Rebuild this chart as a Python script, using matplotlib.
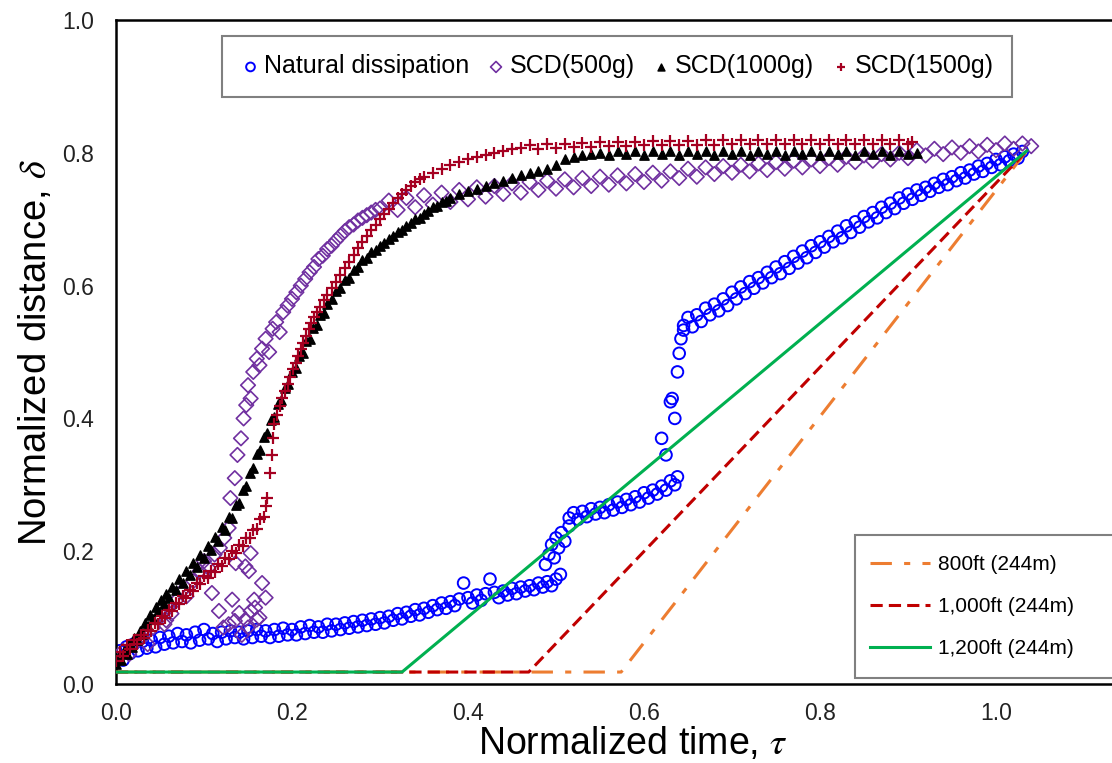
import matplotlib
matplotlib.use("Agg")
import matplotlib.pyplot as plt
from matplotlib.patches import Rectangle

plt.rcParams['font.family'] = ['Liberation Sans', 'DejaVu Sans']
plt.rcParams['mathtext.fontset'] = 'stix'

# Natural dissipation (blue circles)
nat_tau = [0.000, 0.004, 0.008, 0.012, 0.016, 0.020, 0.025, 0.030, 0.035, 0.040, 0.045, 0.050, 0.055, 0.060,
           0.065, 0.070, 0.075, 0.080, 0.085, 0.090, 0.095, 0.100, 0.105, 0.110, 0.115, 0.120, 0.125, 0.130,
           0.135, 0.140, 0.145, 0.150, 0.155, 0.160, 0.165, 0.170, 0.175, 0.180, 0.185, 0.190, 0.195, 0.200,
           0.205, 0.210, 0.215, 0.220, 0.225, 0.230, 0.235, 0.240, 0.245, 0.250, 0.255, 0.260, 0.265, 0.270,
           0.275, 0.280, 0.285, 0.290, 0.295, 0.300, 0.305, 0.310, 0.315, 0.320, 0.325, 0.330, 0.335, 0.340,
           0.345, 0.350, 0.355, 0.360, 0.365, 0.370, 0.375, 0.380, 0.385, 0.390, 0.395, 0.400, 0.405, 0.410,
           0.415, 0.420, 0.425, 0.430, 0.435, 0.440, 0.445, 0.450, 0.455, 0.460, 0.465, 0.470, 0.475, 0.480,
           0.485, 0.490, 0.495, 0.500, 0.505,
           0.488, 0.492, 0.495, 0.498, 0.500, 0.503, 0.506, 0.510, 0.515,
           0.515, 0.520, 0.525, 0.530, 0.535, 0.540, 0.545, 0.550, 0.555, 0.560, 0.565, 0.570, 0.575, 0.580,
           0.585, 0.590, 0.595, 0.600, 0.605, 0.610, 0.615, 0.620, 0.625, 0.630, 0.635, 0.638,
           0.620, 0.625, 0.630, 0.632, 0.635, 0.638, 0.640, 0.642, 0.645,
           0.645, 0.650, 0.655, 0.660, 0.665, 0.670, 0.675, 0.680, 0.685, 0.690, 0.695, 0.700, 0.705, 0.710,
           0.715, 0.720, 0.725, 0.730, 0.735, 0.740, 0.745, 0.750, 0.755, 0.760, 0.765, 0.770, 0.775, 0.780,
           0.785, 0.790, 0.795, 0.800, 0.805, 0.810, 0.815, 0.820, 0.825, 0.830, 0.835, 0.840, 0.845, 0.850,
           0.855, 0.860, 0.865, 0.870, 0.875, 0.880, 0.885, 0.890, 0.895, 0.900, 0.905, 0.910, 0.915, 0.920,
           0.925, 0.930, 0.935, 0.940, 0.945, 0.950, 0.955, 0.960, 0.965, 0.970, 0.975, 0.980, 0.985, 0.990,
           0.995, 1.000, 1.005, 1.010, 1.015, 1.020, 1.025, 1.030]
nat_delta = [0.040, 0.050, 0.036, 0.056, 0.046, 0.060, 0.050, 0.064, 0.054, 0.066, 0.056, 0.070, 0.060, 0.072,
             0.062, 0.076, 0.064, 0.074, 0.062, 0.078, 0.066, 0.082, 0.068, 0.076, 0.064, 0.078, 0.068, 0.080,
             0.070, 0.078, 0.068, 0.080, 0.070, 0.082, 0.072, 0.080, 0.070, 0.082, 0.072, 0.084, 0.074, 0.082,
             0.074, 0.086, 0.076, 0.088, 0.078, 0.086, 0.078, 0.090, 0.080, 0.090, 0.082, 0.092, 0.084, 0.094,
             0.086, 0.096, 0.088, 0.098, 0.090, 0.100, 0.092, 0.102, 0.096, 0.106, 0.098, 0.108, 0.102, 0.112,
             0.104, 0.114, 0.108, 0.118, 0.112, 0.122, 0.114, 0.124, 0.118, 0.128, 0.152, 0.130, 0.122, 0.134,
             0.126, 0.136, 0.158, 0.138, 0.130, 0.140, 0.134, 0.144, 0.136, 0.146, 0.140, 0.148, 0.142, 0.152,
             0.146, 0.154, 0.148, 0.158, 0.165,
             0.180, 0.195, 0.210, 0.190, 0.220, 0.205, 0.228, 0.215, 0.238,
             0.250, 0.258, 0.248, 0.260, 0.252, 0.264, 0.256, 0.266, 0.258, 0.270, 0.262, 0.274, 0.266, 0.278,
             0.270, 0.282, 0.274, 0.288, 0.280, 0.292, 0.286, 0.298, 0.292, 0.306, 0.300, 0.312,
             0.370, 0.345, 0.425, 0.430, 0.400, 0.470, 0.498, 0.520, 0.533,
             0.540, 0.552, 0.538, 0.556, 0.546, 0.566, 0.556, 0.572, 0.562, 0.580, 0.570, 0.590, 0.580, 0.598,
             0.588, 0.606, 0.596, 0.612, 0.604, 0.620, 0.612, 0.628, 0.618, 0.636, 0.626, 0.644, 0.634, 0.652,
             0.642, 0.660, 0.650, 0.666, 0.658, 0.674, 0.666, 0.682, 0.672, 0.690, 0.680, 0.696, 0.688, 0.704,
             0.696, 0.710, 0.702, 0.718, 0.710, 0.724, 0.716, 0.732, 0.724, 0.738, 0.730, 0.744, 0.736, 0.748,
             0.742, 0.754, 0.748, 0.760, 0.752, 0.764, 0.758, 0.770, 0.762, 0.774, 0.768, 0.780, 0.772, 0.784,
             0.778, 0.790, 0.782, 0.794, 0.788, 0.798, 0.792, 0.802]

# SCD(500g) (purple diamonds)
scd500_tau = [0.000, 0.008, 0.015, 0.022, 0.030, 0.036, 0.042, 0.050, 0.055, 0.060, 0.068, 0.075, 0.080, 0.088,
              0.095, 0.100, 0.105, 0.112, 0.118, 0.123, 0.128,
              0.057, 0.063, 0.109, 0.117, 0.132, 0.140, 0.147, 0.153, 0.160, 0.143, 0.157, 0.163, 0.151, 0.166,
              0.147, 0.153, 0.136, 0.128, 0.170, 0.122, 0.135, 0.150, 0.158,
              0.130, 0.135, 0.138, 0.142, 0.145, 0.148, 0.150, 0.153, 0.156, 0.160, 0.163, 0.166, 0.170, 0.174,
              0.178, 0.182, 0.186, 0.190, 0.195, 0.200, 0.205, 0.210, 0.215, 0.220, 0.225, 0.230, 0.235, 0.240,
              0.245, 0.250, 0.255, 0.260, 0.265, 0.270, 0.275, 0.280, 0.285, 0.290, 0.295, 0.300,
              0.31, 0.32, 0.33, 0.34, 0.35, 0.36, 0.37, 0.38, 0.39, 0.40, 0.41, 0.42, 0.43, 0.44,
              0.45, 0.46, 0.47, 0.48, 0.49, 0.50, 0.51, 0.52, 0.53, 0.54, 0.55, 0.56, 0.57, 0.58,
              0.59, 0.60, 0.61, 0.62, 0.63, 0.64, 0.65, 0.66, 0.67, 0.68, 0.69, 0.70, 0.71, 0.72,
              0.73, 0.74, 0.75, 0.76, 0.77, 0.78, 0.79, 0.80, 0.81, 0.82, 0.83, 0.84, 0.85, 0.86,
              0.87, 0.88, 0.89, 0.90, 0.91, 0.92, 0.93, 0.94, 0.95, 0.96, 0.97, 0.98, 0.99, 1.00,
              1.01, 1.02, 1.03, 1.04]
scd500_delta = [0.040, 0.050, 0.045, 0.062, 0.070, 0.060, 0.085, 0.100, 0.090, 0.115, 0.125, 0.140, 0.132, 0.155,
                0.170, 0.185, 0.175, 0.195, 0.205, 0.220, 0.235,
                0.096, 0.106, 0.137, 0.110, 0.127, 0.107, 0.097, 0.110, 0.097, 0.074, 0.127, 0.100, 0.170, 0.152,
                0.177, 0.197, 0.182, 0.090, 0.130, 0.085, 0.095, 0.085, 0.115,
                0.280, 0.310, 0.345, 0.370, 0.400, 0.420, 0.450, 0.430, 0.470, 0.490, 0.480, 0.505, 0.520, 0.500,
                0.535, 0.545, 0.530, 0.560, 0.570, 0.580, 0.590, 0.600, 0.610, 0.620, 0.628, 0.640, 0.645, 0.655,
                0.660, 0.668, 0.675, 0.682, 0.688, 0.692, 0.698, 0.702, 0.706, 0.710, 0.714, 0.716,
                0.728, 0.714, 0.732, 0.718, 0.736, 0.722, 0.740, 0.726, 0.744, 0.730, 0.748, 0.734, 0.750, 0.738,
                0.754, 0.740, 0.756, 0.744, 0.758, 0.746, 0.760, 0.748, 0.762, 0.750, 0.764, 0.752, 0.766, 0.754,
                0.768, 0.756, 0.770, 0.758, 0.772, 0.762, 0.776, 0.764, 0.778, 0.768, 0.780, 0.770, 0.782, 0.772,
                0.784, 0.774, 0.786, 0.776, 0.788, 0.778, 0.790, 0.780, 0.792, 0.782, 0.794, 0.786, 0.796, 0.788,
                0.798, 0.790, 0.800, 0.792, 0.804, 0.796, 0.806, 0.798, 0.808, 0.800, 0.810, 0.802, 0.812, 0.804,
                0.814, 0.806, 0.814, 0.810]

# SCD(1000g) (black triangles)
scd1000_tau = [0.000, 0.003, 0.006, 0.009, 0.012, 0.015, 0.018, 0.021, 0.024, 0.027, 0.030, 0.033, 0.036, 0.039,
               0.042, 0.045, 0.048, 0.051, 0.054, 0.057, 0.060, 0.064, 0.068, 0.072, 0.076, 0.080, 0.084, 0.088,
               0.092, 0.096, 0.100, 0.104, 0.108, 0.112, 0.116, 0.120, 0.124, 0.128, 0.132, 0.136, 0.140, 0.144,
               0.148, 0.152, 0.156, 0.160, 0.164, 0.168, 0.172, 0.176, 0.180, 0.184, 0.188, 0.192, 0.196, 0.200,
               0.204, 0.208, 0.212, 0.216, 0.220, 0.224, 0.228, 0.232, 0.236, 0.240, 0.245, 0.250, 0.255, 0.260,
               0.265, 0.270, 0.275, 0.280, 0.285, 0.290, 0.295, 0.300, 0.305, 0.310, 0.315, 0.320, 0.325, 0.330,
               0.335, 0.340, 0.345, 0.350, 0.355, 0.360, 0.365, 0.370, 0.375, 0.380, 0.390, 0.400, 0.410, 0.420,
               0.430, 0.440, 0.450, 0.460, 0.470, 0.480, 0.490, 0.500, 0.510, 0.520, 0.530, 0.540, 0.550,
               0.56, 0.57, 0.58, 0.59, 0.60, 0.61, 0.62, 0.63, 0.64, 0.65, 0.66, 0.67, 0.68, 0.69,
               0.70, 0.71, 0.72, 0.73, 0.74, 0.75, 0.76, 0.77, 0.78, 0.79, 0.80, 0.81, 0.82, 0.83,
               0.84, 0.85, 0.86, 0.87, 0.88, 0.89, 0.90, 0.91]
scd1000_delta = [0.030, 0.042, 0.036, 0.050, 0.045, 0.060, 0.055, 0.070, 0.066, 0.080, 0.076, 0.092, 0.088, 0.104,
                 0.098, 0.116, 0.110, 0.126, 0.120, 0.136, 0.130, 0.146, 0.142, 0.158, 0.152, 0.170, 0.164, 0.182,
                 0.176, 0.194, 0.190, 0.208, 0.202, 0.222, 0.216, 0.236, 0.232, 0.252, 0.250, 0.270, 0.272, 0.292,
                 0.298, 0.318, 0.326, 0.346, 0.352, 0.372, 0.378, 0.398, 0.402, 0.422, 0.428, 0.446, 0.452, 0.470,
                 0.476, 0.494, 0.498, 0.516, 0.520, 0.536, 0.540, 0.556, 0.558, 0.572, 0.580, 0.592, 0.596, 0.608,
                 0.612, 0.624, 0.628, 0.638, 0.642, 0.650, 0.654, 0.660, 0.664, 0.670, 0.674, 0.680, 0.684, 0.690,
                 0.694, 0.700, 0.702, 0.708, 0.712, 0.718, 0.720, 0.726, 0.728, 0.732, 0.738, 0.742, 0.746, 0.750,
                 0.754, 0.758, 0.762, 0.766, 0.770, 0.772, 0.776, 0.782, 0.790, 0.794, 0.796, 0.798, 0.800,
                 0.797, 0.802, 0.798, 0.803, 0.797, 0.802, 0.798, 0.803, 0.797, 0.802, 0.798, 0.803, 0.797, 0.802,
                 0.798, 0.803, 0.797, 0.802, 0.798, 0.803, 0.797, 0.802, 0.798, 0.803, 0.797, 0.802, 0.798, 0.803,
                 0.797, 0.802, 0.798, 0.803, 0.797, 0.802, 0.798, 0.800]

# SCD(1500g) (dark red crosses)
scd1500_tau = [0.000, 0.004, 0.008, 0.012, 0.016, 0.020, 0.024, 0.028, 0.032, 0.036, 0.040, 0.044, 0.048, 0.052,
               0.056, 0.060, 0.064, 0.068, 0.072, 0.076, 0.080, 0.084, 0.088, 0.092, 0.096, 0.100, 0.104, 0.108,
               0.112, 0.116, 0.120, 0.124, 0.128, 0.132, 0.136, 0.140, 0.144, 0.148, 0.152, 0.156, 0.160, 0.164,
               0.168, 0.170, 0.172, 0.175, 0.177, 0.178, 0.180, 0.183, 0.186, 0.189, 0.192, 0.195, 0.198, 0.201,
               0.204, 0.207, 0.210, 0.213, 0.216, 0.219, 0.222, 0.225, 0.228, 0.232, 0.236, 0.240, 0.245, 0.250,
               0.255, 0.260, 0.265, 0.270, 0.275, 0.280, 0.285, 0.290, 0.295, 0.300, 0.305, 0.310, 0.315, 0.320,
               0.325, 0.330, 0.335, 0.340, 0.345, 0.350, 0.360, 0.370, 0.380, 0.390, 0.400, 0.410, 0.420, 0.430,
               0.440, 0.450, 0.460,
               0.47, 0.48, 0.49, 0.50, 0.51, 0.52, 0.53, 0.54, 0.55, 0.56, 0.57, 0.58, 0.59, 0.60,
               0.61, 0.62, 0.63, 0.64, 0.65, 0.66, 0.67, 0.68, 0.69, 0.70, 0.71, 0.72, 0.73, 0.74,
               0.75, 0.76, 0.77, 0.78, 0.79, 0.80, 0.81, 0.82, 0.83, 0.84, 0.85, 0.86, 0.87, 0.88,
               0.89, 0.90, 0.905]
scd1500_delta = [0.035, 0.048, 0.042, 0.058, 0.052, 0.066, 0.060, 0.074, 0.070, 0.082, 0.080, 0.092, 0.090, 0.102,
                 0.100, 0.112, 0.110, 0.122, 0.120, 0.132, 0.130, 0.142, 0.140, 0.152, 0.150, 0.162, 0.160, 0.170,
                 0.168, 0.180, 0.178, 0.190, 0.188, 0.200, 0.198, 0.210, 0.208, 0.220, 0.220, 0.232, 0.234, 0.248,
                 0.252, 0.268, 0.280, 0.318, 0.345, 0.370, 0.392, 0.405, 0.418, 0.430, 0.442, 0.452, 0.462, 0.474,
                 0.484, 0.494, 0.504, 0.514, 0.524, 0.534, 0.544, 0.552, 0.560, 0.568, 0.578, 0.586, 0.596, 0.606,
                 0.616, 0.626, 0.636, 0.646, 0.656, 0.666, 0.674, 0.684, 0.692, 0.700, 0.708, 0.716, 0.724, 0.732,
                 0.738, 0.744, 0.750, 0.756, 0.760, 0.764, 0.770, 0.776, 0.782, 0.786, 0.790, 0.794, 0.797, 0.800,
                 0.803, 0.805, 0.807,
                 0.812, 0.806, 0.813, 0.807, 0.814, 0.808, 0.815, 0.809, 0.816, 0.810, 0.817, 0.810, 0.817, 0.811,
                 0.818, 0.811, 0.818, 0.812, 0.818, 0.812, 0.819, 0.812, 0.819, 0.813, 0.819, 0.813, 0.819, 0.813,
                 0.820, 0.813, 0.820, 0.814, 0.820, 0.814, 0.820, 0.814, 0.820, 0.814, 0.820, 0.814, 0.820, 0.814,
                 0.820, 0.814, 0.816]

# Theoretical lines
line_labels = ['800ft (244m)', '1,000ft (244m)', '1,200ft (244m)']
line_tau = [[0.0, 0.574, 1.035], [0.0, 0.469, 1.035], [0.0, 0.325, 1.035]]
line_delta = [[0.018, 0.018, 0.803], [0.018, 0.018, 0.803], [0.018, 0.018, 0.803]]

fig = plt.figure(figsize=(11.12, 7.63), dpi=100)
ax = fig.add_axes([116 / 1112, 79 / 763, 1056 / 1112, 664 / 763])

ax.scatter(nat_tau, nat_delta, s=70, facecolors='none', edgecolors='#0000FF', linewidths=1.4,
           marker='o', label='Natural dissipation', zorder=2)
ax.scatter(scd500_tau, scd500_delta, s=55, facecolors='none', edgecolors='#7030A0', linewidths=1.2,
           marker='D', label='SCD(500g)', zorder=3)
ax.scatter(scd1000_tau, scd1000_delta, s=45, color='black', marker='^', label='SCD(1000g)', zorder=4)
ax.scatter(scd1500_tau, scd1500_delta, s=65, color='#A50021', marker='+', linewidths=1.6,
           label='SCD(1500g)', zorder=5)

styles = [dict(color='#ED7D31', linestyle=(0, (7, 4, 2, 4))),
          dict(color='#C00000', linestyle=(0, (4, 2))),
          dict(color='#00B050', linestyle='-')]
line_handles = []
for t, d, lab, st in zip(line_tau, line_delta, line_labels, styles):
    h, = ax.plot(t, d, linewidth=2.2, label=lab, zorder=6, **st)
    line_handles.append(h)

ax.set_xlim(0, 1.2)
ax.set_ylim(0, 1.0)
ax.set_xticks([0.0, 0.2, 0.4, 0.6, 0.8, 1.0])
ax.set_yticks([0.0, 0.2, 0.4, 0.6, 0.8, 1.0])
ax.xaxis.set_major_formatter(plt.FormatStrFormatter('%.1f'))
ax.yaxis.set_major_formatter(plt.FormatStrFormatter('%.1f'))
ax.tick_params(axis='both', length=0, labelsize=16.5, colors='#222222')
ax.tick_params(axis='x', pad=13)
ax.tick_params(axis='y', pad=16)
for side in ['left', 'bottom', 'top']:
    ax.spines[side].set_linewidth(1.8)
ax.spines['right'].set_visible(False)

ax.set_xlabel('Normalized time, $\\tau$', fontsize=27)
ax.set_ylabel('Normalized distance, $\\delta$', fontsize=27.5)
ax.xaxis.set_label_coords(0.489, -0.062)
ax.yaxis.set_label_coords(-0.059, 0.5)

marker_handles = ax.collections[:4]
leg1 = ax.legend(handles=marker_handles, loc='upper left', ncol=4, fontsize=18,
                 bbox_to_anchor=(222 / 1112, 1 - 36 / 763), bbox_transform=fig.transFigure,
                 borderaxespad=0, frameon=True, fancybox=False, edgecolor='#808080', framealpha=1,
                 handletextpad=0.15, columnspacing=0.66, handlelength=0.8, markerscale=0.75,
                 borderpad=0.74)
leg1.get_frame().set_linewidth(1.5)
ax.add_artist(leg1)

# frame of the lower legend runs past the right edge of the picture
box = Rectangle((855 / 1112, (763 - 678) / 763), 300 / 1112, 143 / 763, transform=fig.transFigure,
                facecolor='white', edgecolor='#808080', linewidth=1.5, zorder=7, clip_on=False)
ax.add_patch(box)

leg2 = ax.legend(handles=line_handles, loc='upper left', fontsize=15,
                 bbox_to_anchor=(850 / 1112, 1 - 535 / 763), bbox_transform=fig.transFigure,
                 borderaxespad=0, frameon=False, handlelength=2.9, handletextpad=0.34,
                 labelspacing=1.1, borderpad=0.96)
leg2.set_zorder(8)

fig.savefig('out.png', dpi=100)
